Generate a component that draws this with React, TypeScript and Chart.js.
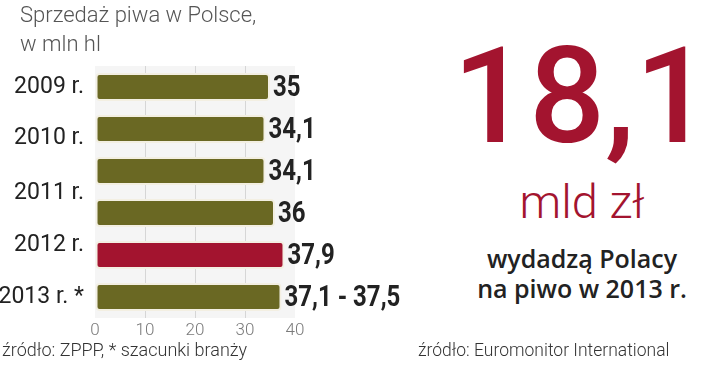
import { useEffect, useRef } from 'react';
import { Chart, registerables } from 'chart.js';

Chart.register(...registerables);

// ---- data ----
const barKeys = ['2009', '2010', '2011', '2011b', '2012', '2013'];
const beerSales = [35, 34.1, 34.1, 36, 37.9, 37.3];
const valueLabels = ['35', '34,1', '34,1', '36', '37,9', '37,1 - 37,5'];
const highlight = [false, false, false, false, true, false];
const yearLabels = ['2009 r.', '2010 r.', '2011 r.', '2012 r.', '2013 r. *'];
const yearLabelSlots = [0, 1.21, 2.52, 3.76, 5];
const xTicks = [0, 10, 20, 30, 40];

const OLIVE = '#6a6823';
const RED = '#a3142f';

export default function App() {
  const ref = useRef<HTMLCanvasElement | null>(null);

  useEffect(() => {
    document.body.style.margin = '0';
    const canvas = ref.current;
    if (!canvas) return;

    const bgPlugin = {
      id: 'plotBg',
      beforeDraw(chart: any) {
        const { ctx, chartArea } = chart;
        ctx.save();
        ctx.fillStyle = '#f5f5f5';
        ctx.fillRect(chartArea.left, chartArea.top, chartArea.right - chartArea.left, chartArea.bottom - chartArea.top);
        ctx.restore();
      },
    };

    const yearLabelPlugin = {
      id: 'yearLabels',
      afterDraw(chart: any) {
        const { ctx, chartArea } = chart;
        const yScale = chart.scales.y;
        ctx.save();
        ctx.font = '400 23px Roboto';
        ctx.fillStyle = '#222222';
        ctx.textAlign = 'right';
        ctx.textBaseline = 'middle';
        yearLabels.forEach((lab, i) => {
          ctx.fillText(lab, chartArea.left - 11, yScale.getPixelForValue(yearLabelSlots[i]));
        });
        ctx.restore();
      },
    };

    const valuePlugin = {
      id: 'valueLabels',
      afterDatasetsDraw(chart: any) {
        const { ctx } = chart;
        const meta = chart.getDatasetMeta(0);
        ctx.save();
        ctx.font = '700 30px Roboto';
        ctx.fillStyle = '#222222';
        ctx.textAlign = 'left';
        ctx.textBaseline = 'middle';
        meta.data.forEach((bar: any, i: number) => {
          ctx.save();
          ctx.translate(bar.x + 3, bar.y + 1);
          ctx.scale(0.8, 1);
          ctx.fillText(valueLabels[i], 0, 0);
          ctx.restore();
        });
        ctx.restore();
      },
    };

    const chart = new Chart(canvas, {
      type: 'bar',
      data: {
        labels: barKeys,
        datasets: [
          {
            data: beerSales,
            backgroundColor: highlight.map((h) => (h ? RED : OLIVE)),
            borderColor: '#f3efe2',
            borderWidth: 2,
            borderRadius: 4,
            borderSkipped: false,
            categoryPercentage: 1,
            barPercentage: 0.667,
          },
        ],
      },
      options: {
        indexAxis: 'y',
        animation: false,
        responsive: false,
        layout: { padding: { top: 66, right: 125, bottom: 18, left: 95 } },
        plugins: { legend: { display: false }, tooltip: { enabled: false } },
        scales: {
          x: {
            type: 'linear',
            min: 0,
            max: 40,
            afterBuildTicks: (s: any) => {
              s.ticks = xTicks.map((v) => ({ value: v }));
            },
            afterFit: (s: any) => {
              s.height = 30;
            },
            border: { display: false },
            grid: {
              drawTicks: false,
              color: (c: any) =>
                c.tick && c.tick.value > 0 && c.tick.value < 40 ? '#d6d6d6' : 'rgba(0,0,0,0)',
            },
            ticks: {
              padding: 3,
              color: '#7a7a7a',
              font: { family: 'Roboto', size: 17, weight: 300 as any },
            },
          },
          y: {
            type: 'category',
            display: false,
            offset: true,
          },
        },
      },
      plugins: [bgPlugin, valuePlugin, yearLabelPlugin],
    } as any);

    return () => chart.destroy();
  }, []);

  const abs = (s: any) => ({ position: 'absolute' as const, whiteSpace: 'nowrap' as const, ...s });

  return (
    <div
      style={{
        position: 'fixed',
        left: 0,
        top: 0,
        width: 720,
        height: 366,
        background: '#ffffff',
        overflow: 'hidden',
        fontFamily: 'Roboto, sans-serif',
      }}
    >
      <canvas ref={ref} width={420} height={366} style={{ position: 'absolute', left: 0, top: 0, width: 420, height: 366 }} />
      <div style={abs({ left: 20, top: 0, fontSize: 22, lineHeight: '29px', fontWeight: 300, color: '#555555' })}>
        Sprzedaż piwa w Polsce,
        <br />
        w mln hl
      </div>
      <div style={abs({ left: 2, top: 340, fontSize: 18, lineHeight: '20px', fontWeight: 300, color: '#333333' })}>
        źródło: ZPPP, * szacunki branży
      </div>
      <div style={abs({ left: 418, top: 340, fontSize: 17.5, lineHeight: '20px', fontWeight: 300, color: '#333333' })}>
        źródło: Euromonitor International
      </div>
      <div
        style={abs({
          left: 440,
          width: 284,
          top: 30,
          textAlign: 'center',
          fontSize: 134,
          lineHeight: '134px',
          fontWeight: 500,
          letterSpacing: 0,
          color: RED,
        })}
      >
        18,1
      </div>
      <div
        style={abs({
          left: 440,
          width: 284,
          top: 178,
          textAlign: 'center',
          fontSize: 47,
          lineHeight: '47px',
          fontWeight: 300,
          color: RED,
        })}
      >
        mld zł
      </div>
      <div
        style={abs({
          left: 440,
          width: 284,
          top: 243,
          textAlign: 'center',
          fontFamily: '"Open Sans", sans-serif',
          fontSize: 25,
          lineHeight: '30px',
          fontWeight: 600,
          color: '#222222',
        })}
      >
        wydadzą Polacy
        <br />
        na piwo w 2013 r.
      </div>
    </div>
  );
}
